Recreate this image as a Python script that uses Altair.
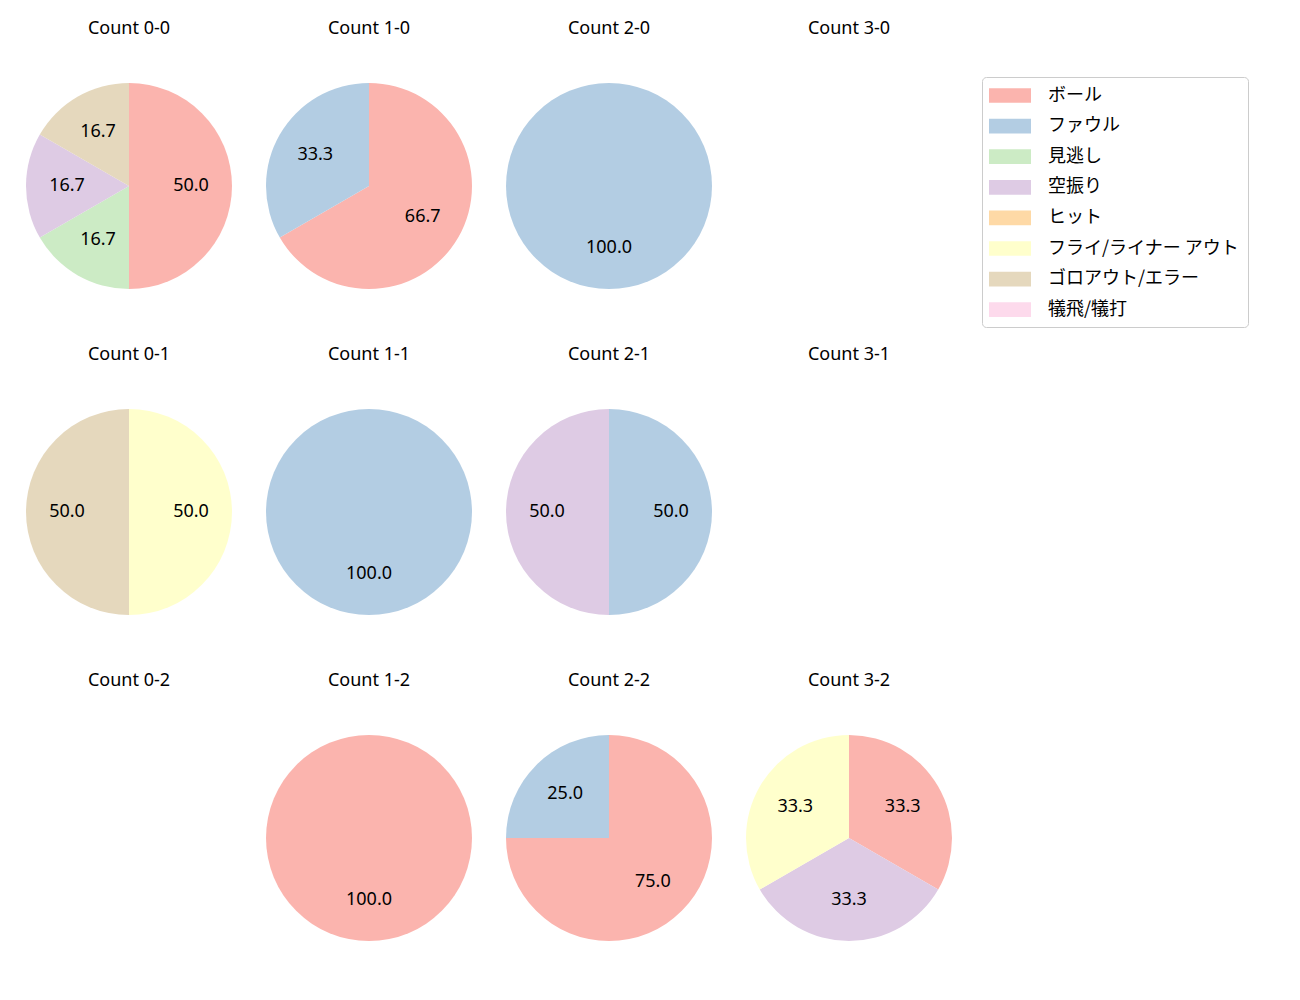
import altair as alt
import pandas as pd

FONT = "Noto Sans, Noto Sans CJK JP"
CJK_FONT = "Noto Sans CJK JP"

panels = ["0-0", "1-0", "2-0", "3-0",
          "0-1", "1-1", "2-1", "3-1",
          "0-2", "1-2", "2-2", "3-2"]

categories = ["ボール", "ファウル", "見逃し", "空振り", "ヒット",
              "フライ/ライナー アウト", "ゴロアウト/エラー", "犠飛/犠打"]
colors = ["#fbb4ae", "#b3cde3", "#ccebc5", "#decbe4", "#fed9a6",
          "#ffffcc", "#e5d8bd", "#fddaec"]

# counts per category, one entry per panel (same order as `panels`)
ball      = [3, 2, 0, 0, 0, 0, 0, 0, 0, 1, 3, 1]
foul      = [0, 1, 1, 0, 0, 1, 1, 0, 0, 0, 1, 0]
called    = [1, 0, 0, 0, 0, 0, 0, 0, 0, 0, 0, 0]
swinging  = [1, 0, 0, 0, 0, 0, 1, 0, 0, 0, 0, 1]
hit       = [0, 0, 0, 0, 0, 0, 0, 0, 0, 0, 0, 0]
flyout    = [0, 0, 0, 0, 1, 0, 0, 0, 0, 0, 0, 1]
groundout = [1, 0, 0, 0, 1, 0, 0, 0, 0, 0, 0, 0]
sacrifice = [0, 0, 0, 0, 0, 0, 0, 0, 0, 0, 0, 0]

series = [ball, foul, called, swinging, hit, flyout, groundout, sacrifice]

rows = []
for p_i, p in enumerate(panels):
    for c_i, (cat, vals) in enumerate(zip(categories, series)):
        if vals[p_i] > 0:
            rows.append({"panel": p, "category": cat, "count": vals[p_i], "order": c_i})
df = pd.DataFrame(rows, columns=["panel", "category", "count", "order"])

color_scale = alt.Scale(domain=categories, range=colors)
legend = alt.Legend(
    title=None, orient="none", legendX=973, legendY=11,
    symbolType="M-2,-0.7L2,-0.7L2,0.7L-2,0.7Z", symbolSize=441,
    symbolStrokeWidth=0, symbolOpacity=1, symbolOffset=9.5,
    labelFont=CJK_FONT, labelFontSize=18, labelColor="black", labelLimit=400,
    labelOffset=27.5, rowPadding=10.6, padding=8,
    strokeColor="#cccccc", fillColor="white", cornerRadius=4,
)

charts = []
for p in panels:
    base = alt.Chart(df).transform_filter(
        alt.datum.panel == p
    ).transform_joinaggregate(
        total="sum(count)"
    ).transform_calculate(
        pct="datum.count / datum.total * 100"
    ).encode(
        theta=alt.Theta("count:Q", stack=True),
        order=alt.Order("order:Q", sort="ascending"),
    )
    arcs = base.mark_arc(outerRadius=103).encode(
        color=alt.Color("category:N", scale=color_scale, legend=legend),
    )
    labels = base.mark_text(radius=62, font=FONT, fontSize=18, color="black").encode(
        text=alt.Text("pct:Q", format=".1f"),
    )
    charts.append(
        alt.layer(arcs, labels).properties(
            width=240, height=240,
            title=alt.TitleParams(f"Count {p}", font=FONT, fontSize=18,
                                  fontWeight="normal", color="black", offset=28),
        )
    )

chart = alt.concat(*charts, columns=4, spacing={"row": 40, "column": 0}).properties(
    padding={"left": 1, "top": 12, "right": 5, "bottom": 5}
).configure_view(stroke=None).configure(font=FONT)

chart.save("out.html", embed_options={"renderer": "svg", "actions": False})
